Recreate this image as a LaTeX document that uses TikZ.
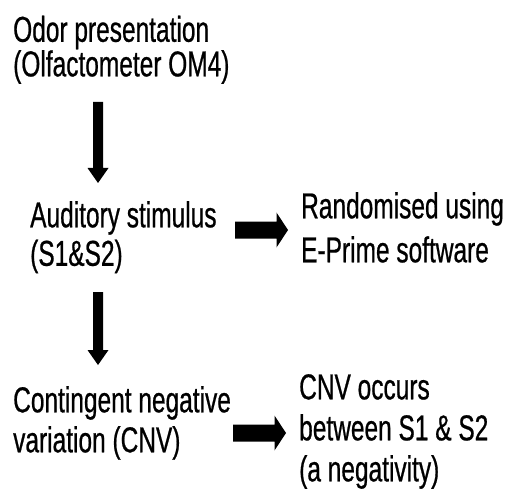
\documentclass[tikz,border=0pt]{standalone}
\usepackage{fontspec}
\setmainfont{Liberation Sans}[FakeStretch=0.68,FakeBold=0.6]
\usetikzlibrary{calc}
\newcommand\downfat[2]{%
  \fill ($(#1)+(-5,0)$) -- ($(#1)+(5,0)$) -- ($(#2)+(5,-15)$) -- ($(#2)+(10.5,-15)$)
    -- (#2) -- ($(#2)+(-10.5,-15)$) -- ($(#2)+(-5,-15)$) -- cycle;}
\newcommand\rightfat[2]{%
  \fill ($(#1)+(0,-8.5)$) -- ($(#1)+(0,8.5)$) -- ($(#2)+(-11.5,8.5)$) -- ($(#2)+(-11.5,17.5)$)
    -- (#2) -- ($(#2)+(-11.5,-17.5)$) -- ($(#2)+(-11.5,-8.5)$) -- cycle;}
\begin{document}
\begin{tikzpicture}[x=1pt,y=-1pt,
  txt/.style={anchor=north west, inner sep=0pt, align=left, text=black}]
\useasboundingbox (0,0) rectangle (507,503);
\fill[white] (0,0) rectangle (507,503);
\node[txt, font=\fontsize{36}{33.3}\selectfont] (odor) at (13,15.5) {Odor presentation\\(Olfactometer OM4)};
\node[txt, font=\fontsize{36}{38.5}\selectfont] (aud) at (30,201) {Auditory stimulus\\(S1\&S2)};
\node[txt, font=\fontsize{36}{44}\selectfont] (rand) at (301,192) {Randomised using\\E-Prime software};
\node[txt, font=\fontsize{36}{40}\selectfont] (cont) at (13,386) {Contingent negative\\variation (CNV)};
\node[txt, font=\fontsize{36}{41}\selectfont] (occ) at (299,374) {CNV occurs\\between S1 \& S2\\(a negativity)};
\coordinate (v1s) at (98,102);
\coordinate (v1e) at (98,183);
\coordinate (v2s) at (98,292);
\coordinate (v2e) at (98,365);
\coordinate (h1s) at (235,230);
\coordinate (h1e) at (288,230);
\coordinate (h2s) at (233,433);
\coordinate (h2e) at (286,433);
\downfat{v1s}{v1e}
\downfat{v2s}{v2e}
\rightfat{h1s}{h1e}
\rightfat{h2s}{h2e}
\end{tikzpicture}
\end{document}
